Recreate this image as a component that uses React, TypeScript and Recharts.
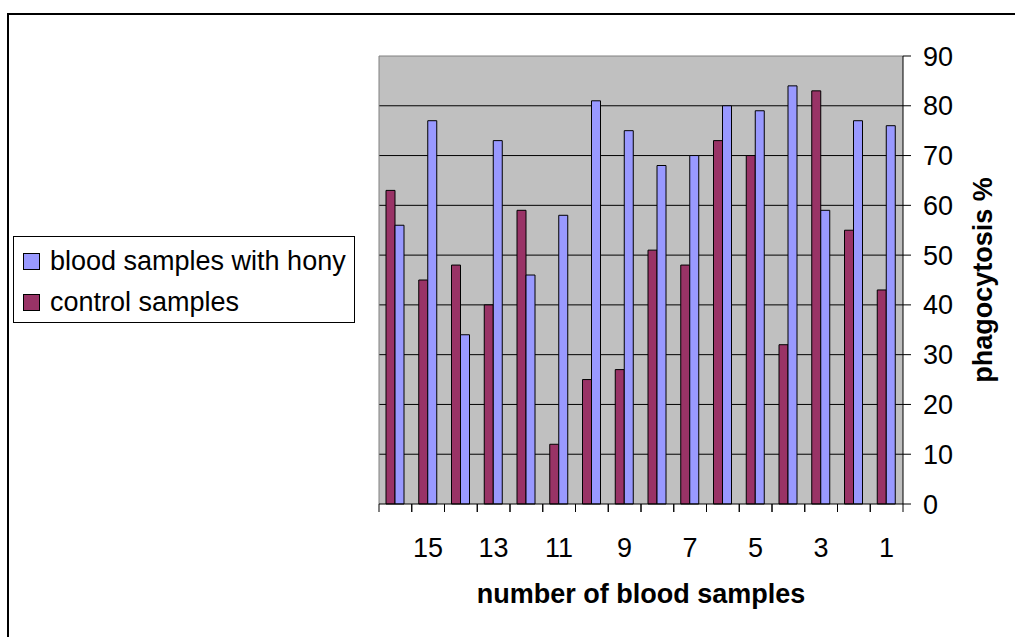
import React from 'react';
import { BarChart, Bar, XAxis, YAxis, CartesianGrid, Legend, Label } from 'recharts';

// sample numbers 1..16 (axis is drawn reversed, 16 on the left)
const sampleNumbers = [1, 2, 3, 4, 5, 6, 7, 8, 9, 10, 11, 12, 13, 14, 15, 16];
const honyValues = [76, 77, 59, 84, 79, 80, 70, 68, 75, 81, 58, 46, 73, 34, 77, 56];
const controlValues = [43, 55, 83, 32, 70, 73, 48, 51, 27, 25, 12, 59, 40, 48, 45, 63];
const yTicks = [0, 10, 20, 30, 40, 50, 60, 70, 80, 90];
const gridValues = [10, 20, 30, 40, 50, 60, 70, 80];

const seriesNames = ['blood samples with hony', 'control samples'];
const seriesColors = ['#9999FF', '#993366'];

const data = sampleNumbers.map((n, i) => ({
  sample: n,
  hony: honyValues[i],
  control: controlValues[i],
}));

const W = 1015;
const H = 637;
const PLOT_LEFT = 379;
const PLOT_TOP = 56;
const Y_AXIS_W = 112;
const X_AXIS_H = 133;
const PLOT_RIGHT = W - Y_AXIS_W;
const BW = (PLOT_RIGHT - PLOT_LEFT) / sampleNumbers.length;
const FONT = '"Liberation Sans", Arial, sans-serif';

const XTick = (props: any) => {
  const { x, y, payload } = props;
  const v = Number(payload.value);
  return (
    <g>
      <line x1={x - BW / 2} x2={x - BW / 2} y1={y} y2={y + 8} stroke="#000" />
      <line x1={x + BW / 2} x2={x + BW / 2} y1={y} y2={y + 8} stroke="#000" />
      {v % 2 === 1 && (
        <text x={x} y={y + 53} textAnchor="middle" fontSize={27} fill="#000">
          {v}
        </text>
      )}
    </g>
  );
};

const LegendBox = () => (
  <div
    style={{
      border: '1px solid #000',
      background: '#fff',
      width: 340,
      height: 85,
      fontSize: 27,
      fontFamily: FONT,
      color: '#000',
      boxSizing: 'content-box',
    }}
  >
    {seriesNames.map((name, i) => (
      <div key={name} style={{ display: 'flex', alignItems: 'center', height: 41, marginTop: i === 0 ? 4 : 0 }}>
        <span
          style={{
            display: 'inline-block',
            width: 15,
            height: 15,
            background: seriesColors[i],
            border: '1px solid #000',
            marginLeft: 9,
            marginRight: 10,
          }}
        />
        <span style={{ lineHeight: '41px', whiteSpace: 'nowrap' }}>{name}</span>
      </div>
    ))}
  </div>
);

export default function App() {
  return (
    <div style={{ position: 'absolute', left: 0, top: 0, width: W, height: H, background: '#fff', fontFamily: FONT, overflow: 'hidden' }}>
      <div
        style={{
          position: 'absolute',
          left: 7,
          top: 13,
          width: W,
          height: H,
          borderTop: '2px solid #000',
          borderLeft: '2px solid #000',
        }}
      />
      <BarChart
        width={W}
        height={H}
        data={data}
        margin={{ top: PLOT_TOP, left: PLOT_LEFT, right: 0, bottom: 0 }}
        barSize={9}
        barGap={0}
      >
        <CartesianGrid fill="#C0C0C0" stroke="#000" vertical={false} horizontalValues={gridValues} />
        <CartesianGrid
          fill="none"
          stroke="#808080"
          horizontalPoints={[PLOT_TOP]}
          verticalPoints={[PLOT_LEFT]}
        />
        <XAxis
          dataKey="sample"
          type="category"
          reversed
          interval={0}
          height={X_AXIS_H}
          tickLine={false}
          tickSize={0}
          tickMargin={0}
          axisLine={{ stroke: '#000' }}
          tick={<XTick />}
        >
          <Label
            value="number of blood samples"
            position="insideBottom"
            offset={34}
            style={{ fontSize: 27, fontWeight: 'bold', fill: '#000', fontFamily: FONT }}
          />
        </XAxis>
        <YAxis
          orientation="right"
          width={Y_AXIS_W}
          domain={[0, 90]}
          ticks={yTicks}
          interval={0}
          tickSize={8}
          tickMargin={12}
          axisLine={{ stroke: '#000' }}
          tickLine={{ stroke: '#000' }}
          tick={{ fontSize: 27, fill: '#000' }}
        >
          <Label
            value="phagocytosis %"
            angle={-90}
            position="center"
            dx={23}
            style={{ fontSize: 27, fontWeight: 'bold', fill: '#000', fontFamily: FONT, textAnchor: 'middle' }}
          />
        </YAxis>
        <Legend
          layout="vertical"
          align="center"
          verticalAlign="middle"
          content={<LegendBox />}
          wrapperStyle={{ position: 'absolute', left: 13, top: 236, width: 342, height: 87 }}
        />
        <Bar dataKey="control" name={seriesNames[1]} fill={seriesColors[1]} stroke="#000" strokeWidth={1} isAnimationActive={false} />
        <Bar dataKey="hony" name={seriesNames[0]} fill={seriesColors[0]} stroke="#000" strokeWidth={1} isAnimationActive={false} />
      </BarChart>
    </div>
  );
}
